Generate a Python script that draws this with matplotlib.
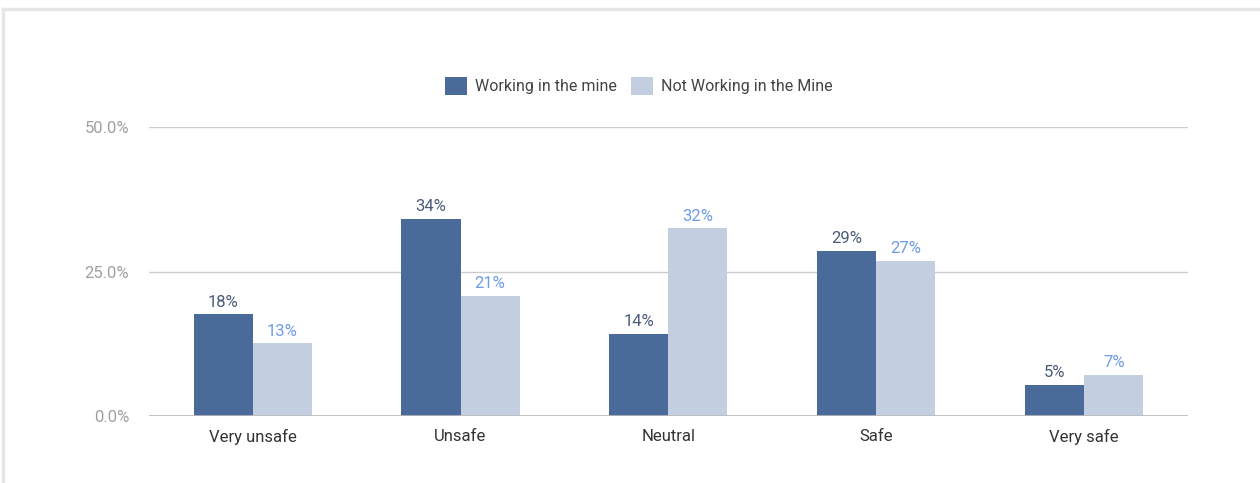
import matplotlib
matplotlib.use("Agg")
import matplotlib.pyplot as plt
from matplotlib.lines import Line2D
import numpy as np

plt.rcParams['font.family'] = ['Roboto', 'DejaVu Sans']

categories = ["Very unsafe", "Unsafe", "Neutral", "Safe", "Very safe"]
working = [17.6, 34.1, 14.2, 28.6, 5.4]
not_working = [12.6, 20.8, 32.5, 26.8, 7.1]
series_names = ["Working in the mine", "Not Working in the Mine"]
yticks = [0, 25, 50]

dark = "#4a6a9a"
light = "#c3cee0"

fig = plt.figure(figsize=(12.6, 4.83), dpi=100)
ax = fig.add_axes([0.118, 0.1387, 0.825, 0.5983])

x = np.arange(len(categories))
w = 0.284
b1 = ax.bar(x - w / 2, working, w, color=dark, label=series_names[0], zorder=3)
b2 = ax.bar(x + w / 2, not_working, w, color=light, label=series_names[1], zorder=3)

for bars, vals, col in [(b1, working, "#4b5b78"), (b2, not_working, "#6d9cea")]:
    for r, v in zip(bars, vals):
        ax.text(r.get_x() + r.get_width() / 2, v + 0.8, "{:.0f}%".format(v),
                ha="center", va="bottom", fontsize=12, color=col)

ax.set_xlim(-0.5, len(categories) - 0.5)
ax.set_ylim(0, 50)
ax.set_yticks(yticks)
ax.set_yticklabels(["{:.1f}%".format(t) for t in yticks], fontsize=12, color="#a0a0a0")
ax.set_xticks(x)
ax.set_xticklabels(categories, fontsize=12, color="#333333")
ax.tick_params(length=0, pad=9)
ax.tick_params(axis="y", pad=14)
ax.grid(axis="y", color="#cccccc", linewidth=1, zorder=0)
for s in ax.spines.values():
    s.set_visible(False)
ax.axhline(0, color="#bbbbbb", linewidth=1.2, zorder=4)

fig.legend(handles=[b1, b2], loc="center", bbox_to_anchor=(0.507, 0.822), ncol=2,
           frameon=False, fontsize=11.5, handlelength=1.4, handleheight=1.3,
           handletextpad=0.5, columnspacing=0.9, labelcolor="#444444")

# light card edge along the top and left
frame_y = 1 - 9 / 483
fig.add_artist(Line2D([0.002, 1.0], [frame_y, frame_y], transform=fig.transFigure,
                      color="#e6e6e6", linewidth=2.5))
fig.add_artist(Line2D([0.002, 0.002], [0, frame_y], transform=fig.transFigure,
                      color="#e6e6e6", linewidth=2.5))

fig.savefig("out.png", dpi=100)
